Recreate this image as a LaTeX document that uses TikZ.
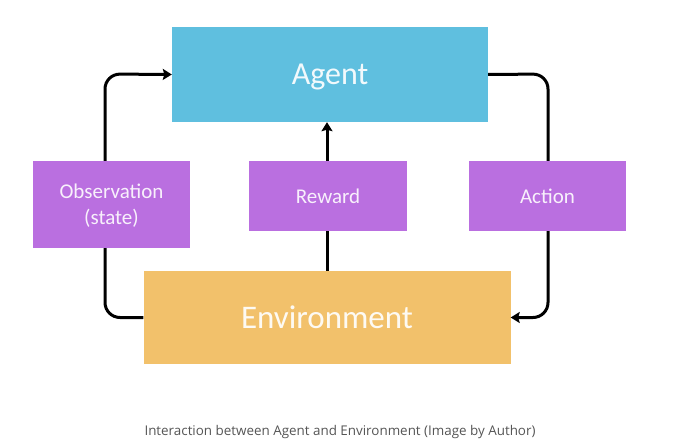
\documentclass[tikz,border=0pt]{standalone}
\usepackage{fontspec}
\setmainfont{Carlito}
\newfontfamily\captionfont{Open Sans}
\usepackage{tikz}
\usetikzlibrary{arrows.meta}
\usetikzlibrary{calc,positioning}
\definecolor{agentblue}{HTML}{5FBFDF}
\definecolor{envorange}{HTML}{F2C16B}
\definecolor{signalpurple}{HTML}{BA6FE0}
\definecolor{captiongray}{HTML}{555555}

\begin{document}
\begin{tikzpicture}[x=1pt,y=-1pt,
  bigbox/.style={inner sep=0, text=white, text opacity=0.92},
  signalbox/.style={inner sep=0, fill=signalpurple, text=white, text opacity=0.9,
    minimum width=157pt, align=center, font=\fontsize{21}{25}\selectfont},
  flow/.style={line width=3pt, rounded corners=15pt, -{Stealth[length=9pt,width=11pt,inset=1.5pt]}}]
\useasboundingbox (0,0) rectangle (680,441);
%%%%%%%%%%%%%%%%%%%%%%%%%%%%
%%%%%%%% Main boxes %%%%%%%%
%%%%%%%%%%%%%%%%%%%%%%%%%%%%
\node[bigbox, fill=agentblue, minimum width=316pt, minimum height=95pt, text depth=0pt,
  font=\fontsize{32}{38}\selectfont] (agent) at (330,74.5) {Agent};
\node[bigbox, fill=envorange, minimum width=367pt, minimum height=93pt,
  font=\fontsize{33}{39}\selectfont] (env) at (327,317.5) {Environment};
%%%%%%%%%%%%%%%%%%%%%%%%%%%%
%%%%%%%% Loop lines %%%%%%%%
%%%%%%%%%%%%%%%%%%%%%%%%%%%%
\coordinate (obsline) at (105,74);
\coordinate (actline) at (548,74);
\draw[flow] (env.west) -| (obsline) -- (agent.west);
\draw[flow] (agent.east) -- (actline) |- (env.east);
\draw[flow] (env.north) -- (env.north |- agent.south);
%%%%%%%%%%%%%%%%%%%%%%%%%%%%
%%%%%%%% Signals %%%%%%%%%%%
%%%%%%%%%%%%%%%%%%%%%%%%%%%%
\node[signalbox, minimum height=87pt, text depth=0pt] (obs) at (111.5,204.5) {Observation\\[1pt](state)};
\node[signalbox, minimum width=158pt, minimum height=70pt] (reward) at (328,196) {Reward};
\node[signalbox, minimum height=70pt] (action) at (547.5,196) {Action};
%%%%%%%%%%%%%%%%%%%%%%%%%%%%
\node[text=captiongray, font=\captionfont\fontsize{13.4}{16}\selectfont] (caption) at (340,432)
  {Interaction between Agent and Environment (Image by Author)};
\end{tikzpicture}
\end{document}
